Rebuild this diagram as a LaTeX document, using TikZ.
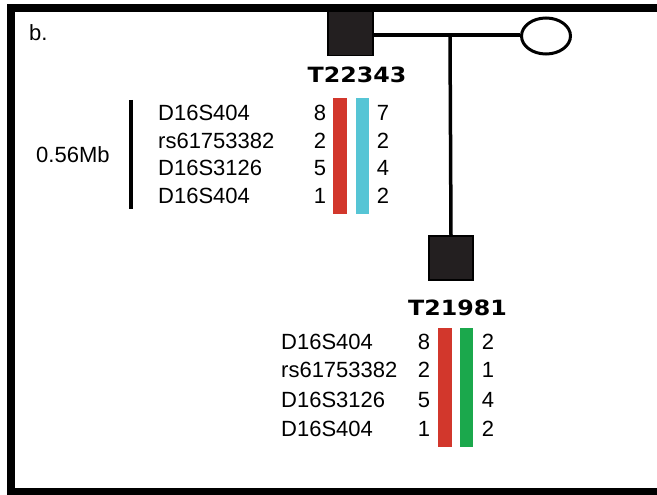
\documentclass[tikz,border=0pt]{standalone}
\usepackage{fontspec}
\setmainfont{Liberation Sans}
\newfontfamily\idfont{DejaVu Sans}
\usetikzlibrary{shapes.geometric}
\definecolor{hapred}{HTML}{D2372C}
\definecolor{hapcyan}{HTML}{56C5D5}
\definecolor{hapgreen}{HTML}{1BA84C}
\definecolor{affected}{HTML}{231F20}
\begin{document}
\begin{tikzpicture}[x=1pt,y=-1pt,
  txt/.style={inner sep=0pt, font=\fontsize{22}{25}\selectfont},
  marker/.style={txt, anchor=base west},
  allele/.style={txt, anchor=base},
  idlabel/.style={inner sep=0pt, anchor=center,
    font=\idfont\bfseries\fontsize{21}{23}\selectfont, xscale=1.13},
  malebox/.style={draw=black, line width=1.5pt, fill=affected,
    minimum size=#1, inner sep=0pt},
  femaleoval/.style={ellipse, draw=black, line width=3pt, fill=white,
    minimum width=49pt, minimum height=36pt, inner sep=0pt},
  link/.style={line width=3.5pt},
  hapbar/.style={draw=white, line width=0.6pt}]
\useasboundingbox (0,0) rectangle (657,495);

% pedigree symbols
\node[malebox=45pt] (father) at (350.5,33) {};
\node[femaleoval] (mother) at (546,36) {};
\node[malebox=44pt] (child) at (451,258) {};
\coordinate (mate) at (450,35);
\draw[link] (father.east |- mate) -- (mother.west |- mate);
\draw[link] (mate) -- (child.north);

% outer frame
\begin{scope}
  \clip (0,0) rectangle (657,495);
  \draw[line width=8pt] (11,8.5) rectangle (661,491.5);
\end{scope}

\node[marker] (panel) at (29,41) {b.};

% father haplotypes
\node[idlabel] (idf) at (357,75) {T22343};
\draw[line width=4pt] (130.5,100) -- (130.5,209);
\node[txt, anchor=base west] (span) at (36,162) {0.56Mb};
\foreach \y/\m/\a/\b [count=\i] in {121/D16S404/8/7, 148.3/rs61753382/2/2,
    175.6/D16S3126/5/4, 203/D16S404/1/2}{
  \node[marker] (fm\i) at (158,\y) {\m};
  \node[allele] (fa\i) at (320,\y) {\a};
  \node[allele] (fb\i) at (383,\y) {\b};
}
\path[hapbar, fill=hapred] (332,97) rectangle (347,214);
\path[hapbar, fill=hapcyan] (355,97) rectangle (369,214);

% child haplotypes
\node[idlabel] (idc) at (457.5,308) {T21981};
\foreach \y/\m/\a/\b [count=\i] in {349/D16S404/8/2, 377.5/rs61753382/2/1,
    407.5/D16S3126/5/4, 436/D16S404/1/2}{
  \node[marker] (cm\i) at (281,\y) {\m};
  \node[allele] (ca\i) at (424,\y) {\a};
  \node[allele] (cb\i) at (488,\y) {\b};
}
\path[hapbar, fill=hapred] (437,327) rectangle (452,447);
\path[hapbar, fill=hapgreen] (459,327) rectangle (473,447);
\end{tikzpicture}
\end{document}
